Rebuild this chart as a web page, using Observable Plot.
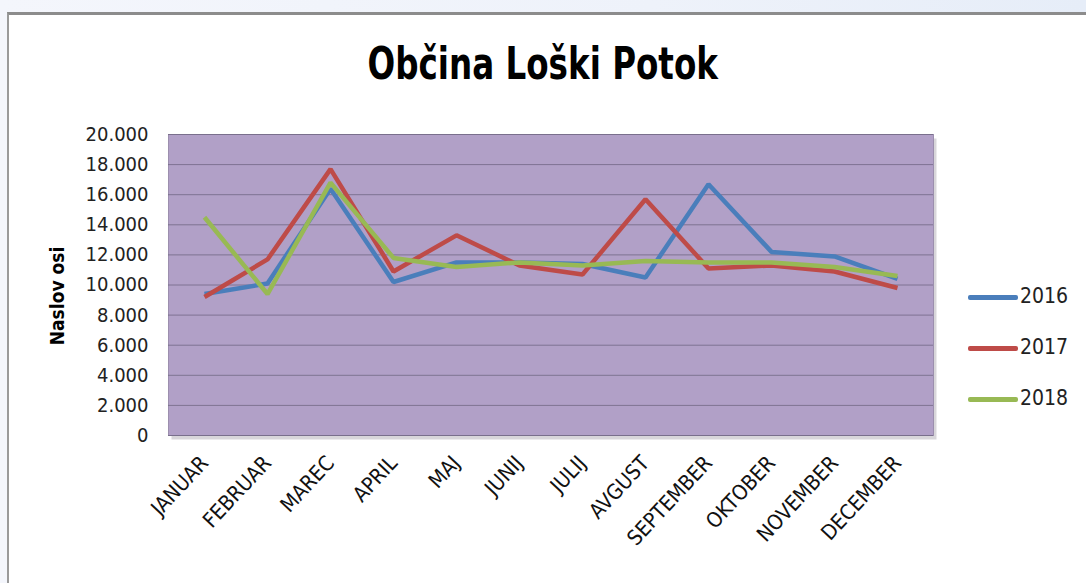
<!DOCTYPE html>
<html>
<head>
<meta charset="utf-8">
<script src="https://cdn.jsdelivr.net/npm/d3@7"></script>
<script src="https://cdn.jsdelivr.net/npm/@observablehq/plot@0.6"></script>
<style>
  html, body { margin: 0; padding: 0; background: #ffffff; }
  #page { position: relative; width: 1086px; height: 583px; overflow: hidden;
          background: linear-gradient(90deg, #f4f6fc 0%, #eef2fa 60%, #e6edf8 100%); }
  #frame { position: absolute; left: 7px; top: 12px; width: 1079px; height: 571px;
           background: #ffffff; border-top: 3px solid #8c8c8c; border-left: 2px solid #9a9a9a; box-sizing: border-box; }
  #title { position: absolute; left: 0; top: 34px; width: 1086px; text-align: center;
           font-family: "DejaVu Sans", sans-serif; font-weight: bold; font-size: 44px; line-height: 60px; color: #000; }
  #title span { display: inline-block; transform: scaleX(0.74); transform-origin: 50% 50%; }
  #chart { position: absolute; left: 0; top: 120px; }
  #legend { position: absolute; left: 968px; top: 283px; font-family: "DejaVu Sans Condensed", "DejaVu Sans", sans-serif;
            font-size: 21px; color: #222; }
  #legend .item { position: absolute; left: 0; white-space: nowrap; height: 26px; line-height: 26px; }
  #legend .sw { display: inline-block; width: 50px; height: 5px; border-radius: 2px; vertical-align: middle; margin-right: 2px; }
</style>
</head>
<body>
<div id="page">
  <div id="frame"></div>
  <div id="title"><span>Občina Loški Potok</span></div>
  <div id="chart"></div>
  <div id="legend"></div>
</div>
<script>
const months = ["JANUAR","FEBRUAR","MAREC","APRIL","MAJ","JUNIJ","JULIJ","AVGUST","SEPTEMBER","OKTOBER","NOVEMBER","DECEMBER"];
const years = ["2016","2017","2018"];
const colors = ["#4a7ebb","#be4b48","#98b954"];
const v2016 = [9400,10100,16400,10200,11500,11500,11400,10500,16700,12200,11900,10400];
const v2017 = [9200,11700,17700,10900,13300,11300,10700,15700,11100,11300,10900,9800];
const v2018 = [14500,9400,16800,11800,11200,11500,11300,11600,11500,11500,11200,10600];
const yTicks = [0,2000,4000,6000,8000,10000,12000,14000,16000,18000,20000];

const series = [v2016, v2017, v2018];
const data = [];
years.forEach((y, i) => months.forEach((m, j) => data.push({year: y, month: m, value: series[i][j]})));

const fmt = v => v === 0 ? "0" : d3.format(",")(v).replace(/,/g, ".");

const W = 1086, H = 463;
const mL = 168, mR = W - 933, mT = 14, mB = H - 315;

const plot = Plot.plot({
  width: W, height: H,
  marginLeft: mL, marginRight: mR, marginTop: mT, marginBottom: mB,
  style: { background: "transparent", fontFamily: "'DejaVu Sans Condensed','DejaVu Sans',sans-serif" },
  x: { type: "point", domain: months, padding: 0.5, label: null },
  y: { domain: [0, 20000], label: null },
  color: { domain: years, range: colors },
  marks: [
    Plot.frame({ fill: "#8f8a96", fillOpacity: 0.35, stroke: null, dx: 3, dy: 4 }),
    Plot.frame({ fill: "#b1a0c7", stroke: "#9c8fae" }),
    Plot.ruleY(yTicks, { y: d => d, stroke: "#6e6480", strokeOpacity: 0.75, strokeWidth: 1 }),
    Plot.line(data, { x: "month", y: "value", z: "year", stroke: "year", strokeWidth: 4.5, strokeLinejoin: "miter", strokeLinecap: "butt" }),
    Plot.axisY(yTicks, { tickSize: 0, tickPadding: 20, tickFormat: fmt, fontSize: 20, fill: "#222", label: null }),
    Plot.axisX(months, { tickSize: 0, tickRotate: -47, tickPadding: 24, fontSize: 21, fill: "#111", label: null }),
    Plot.text(["Naslov osi"], { frameAnchor: "left", textAnchor: "middle", dx: -111, dy: 11, rotate: -90, fontWeight: "bold", fontSize: 19, fill: "#000",
      fontFamily: "'DejaVu Sans Condensed','DejaVu Sans',sans-serif" })
  ]
});
document.getElementById("chart").appendChild(plot);

const legend = document.getElementById("legend");
years.forEach((y, i) => {
  const it = document.createElement("div");
  it.className = "item";
  it.style.top = (i * 51) + "px";
  it.innerHTML = `<span class="sw" style="background:${colors[i]}"></span>${y}`;
  legend.appendChild(it);
});
</script>
</body>
</html>
